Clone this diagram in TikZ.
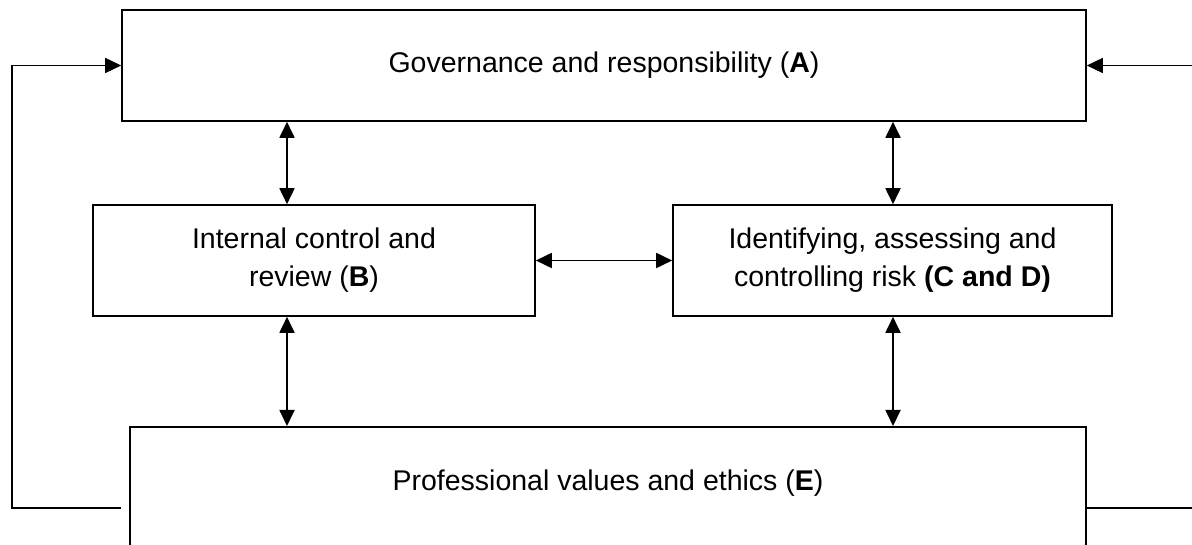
\documentclass[tikz,border=0pt]{standalone}
\usepackage{fontspec}
\setmainfont{Liberation Sans}
\usetikzlibrary{positioning, arrows.meta}

\begin{document}
\begin{tikzpicture}[x=1pt, y=1pt,
		every node/.style={font=\fontsize{28.5}{38}\selectfont, align=center},
		box/.style={draw, line width=1.6pt, minimum height=111pt, inner sep=0pt},
		link/.style={line width=1.8pt, {Triangle[length=16pt,width=15pt]}-{Triangle[length=16pt,width=15pt]}},
		back/.style={line width=1.6pt, -{Triangle[length=16pt,width=15pt]}}]
		\useasboundingbox (0,0) rectangle (1192,544);
		\node[box, minimum width=964pt] (A) at (604,478.5) {Governance and responsibility (\textbf{A})};
		\node[box, minimum width=442pt] (B) at (314,283.5) {Internal control and\\review (\textbf{B})};
		\node[box, minimum width=439pt] (CD) at (892.5,283.5) {Identifying, assessing and\\controlling risk \textbf{(C and D)}};
		\node[box, minimum width=956pt, minimum height=0pt, text height=64pt, text depth=90pt, anchor=north] (E) at (608,118) {Professional values and ethics (\textbf{E})};
		
		\draw[link] ([xshift=-27pt]B.north |- A.south) -- ([xshift=-27pt]B.north);
		\draw[link] ([xshift=0.5pt]CD.north |- A.south) -- ([xshift=0.5pt]CD.north);
		\draw[link] (B.east) -- (CD.west);
		\draw[link] ([xshift=-27pt]B.south) -- ([xshift=-27pt]B.south |- E.north);
		\draw[link] ([xshift=0.5pt]CD.south) -- ([xshift=0.5pt]CD.south |- E.north);
		
		\coordinate (l) at (12,36);
		\coordinate (r) at (1195,36);
		\draw[back] ([xshift=-8pt]E.west |- l) -- (l) |- (A.west);
		\draw[back] (E.east |- r) -- (r) |- (A.east);
	\end{tikzpicture}
\end{document}
